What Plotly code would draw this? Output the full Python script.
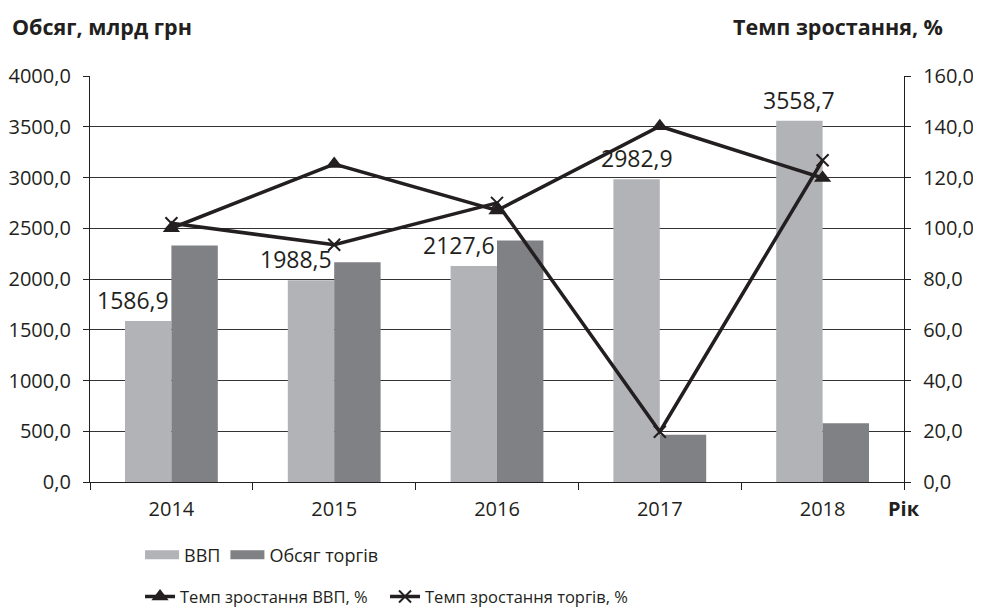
import plotly.graph_objects as go

years = ["2014", "2015", "2016", "2017", "2018"]
gdp = [1586.9, 1988.5, 2127.6, 2982.9, 3558.7]
trade = [2330, 2165, 2380, 465, 580]
gdp_growth = [100.0, 125.3, 107.0, 140.2, 119.8]
trade_growth = [102.0, 93.5, 110.0, 19.8, 126.8]

FONT = "Open Sans"
TXT = "#231f20"
LIGHT = "#b2b3b7"
DARK = "#808185"
BARGAP = 0.43

fig = go.Figure()
fig.add_trace(go.Bar(x=years, y=gdp, name="ВВП", marker=dict(color=LIGHT, line=dict(width=0)),
                     showlegend=False, legendgroup="g"))
fig.add_trace(go.Bar(x=years, y=trade, name="Обсяг торгів", marker=dict(color=DARK, line=dict(width=0)),
                     showlegend=False, legendgroup="t"))
# legend entries for bars (wide patches)
fig.add_trace(go.Scatter(x=[None], y=[None], mode="lines", name="ВВП",
                         line=dict(color=LIGHT, width=9), legendgroup="g", legend="legend"))
fig.add_trace(go.Scatter(x=[None], y=[None], mode="lines", name="Обсяг торгів",
                         line=dict(color=DARK, width=9), legendgroup="t", legend="legend"))

fig.add_trace(go.Scatter(x=years, y=gdp_growth, yaxis="y2", mode="lines+markers",
                         name="Темп зростання ВВП, %", legend="legend2",
                         line=dict(color=TXT, width=3.5),
                         marker=dict(symbol="triangle-up", size=15, color=TXT)))
fig.add_trace(go.Scatter(x=years, y=trade_growth, yaxis="y2", mode="lines+markers",
                         name="Темп зростання торгів, %", legend="legend2",
                         line=dict(color=TXT, width=3.5),
                         marker=dict(symbol="x-thin", size=12, color=TXT, line=dict(color=TXT, width=2))))

# GDP value labels, anchored to the data (category index, value), drawn above all traces.
# Where the neighbouring trade bar is taller, the label sits left of it; else centred on the GDP bar.
half_bar = (1 - BARGAP) / 4
annotations = []
for i, (v, t) in enumerate(zip(gdp, trade)):
    left_of_trade = t > v
    annotations.append(dict(
        x=i if left_of_trade else i - half_bar, y=v, xref="x", yref="y",
        text=f"{v:.1f}".replace(".", ","),
        xanchor="right" if left_of_trade else "center", yanchor="bottom", yshift=3,
        showarrow=False, font=dict(family=FONT, size=23, color=TXT)))
annotations += [
    dict(text="<b>Обсяг, млрд грн</b>", xref="paper", yref="paper", x=-0.098, y=1.121,
         xanchor="left", yanchor="middle", showarrow=False,
         font=dict(family=FONT, size=21.5, color=TXT)),
    dict(text="<b>Темп зростання, %</b>", xref="paper", yref="paper", x=1.050, y=1.121,
         xanchor="right", yanchor="middle", showarrow=False,
         font=dict(family=FONT, size=21.5, color=TXT)),
    dict(text="<b>Рік</b>", xref="paper", yref="paper", x=1.0, y=-0.0665,
         xanchor="center", yanchor="middle", showarrow=False,
         font=dict(family=FONT, size=20, color=TXT)),
]

# page has an 8px body margin, so the figure is drawn at (8, 8)
W, H = 973, 607
fig.update_layout(
    width=W, height=H,
    margin=dict(l=82, r=77, t=68, b=133, autoexpand=False),
    paper_bgcolor="white", plot_bgcolor="white",
    separators=", ",
    font=dict(family=FONT, size=20, color=TXT),
    barmode="group", bargap=BARGAP, bargroupgap=0,
    xaxis=dict(type="category", categoryorder="array", categoryarray=years,
               range=[-0.5, len(years) - 0.5], autorange=False,
               showline=True, linecolor=TXT, linewidth=1.3, automargin=False,
               ticks="outside", tickson="boundaries", ticklen=7, tickcolor=TXT, tickwidth=1.3,
               ticklabelstandoff=9, showgrid=False, tickangle=0,
               tickfont=dict(family=FONT, size=20, color=TXT)),
    yaxis=dict(range=[0, 4000], dtick=500, tickformat=".1f", automargin=False,
               showline=True, linecolor=TXT, linewidth=1.3,
               ticks="outside", ticklen=6, tickcolor=TXT, tickwidth=1.3,
               showgrid=True, gridcolor="#333333", gridwidth=1.2,
               zeroline=False, ticklabelstandoff=8,
               tickfont=dict(family=FONT, size=20, color=TXT)),
    yaxis2=dict(range=[0, 160], dtick=20, tickformat=".1f", overlaying="y", side="right",
                showline=True, linecolor=TXT, linewidth=1.3, automargin=False,
                ticks="outside", ticklen=6, tickcolor=TXT, tickwidth=1.3,
                showgrid=False, zeroline=False, ticklabelstandoff=8,
                tickfont=dict(family=FONT, size=20, color=TXT)),
    legend=dict(orientation="h", xref="container", yref="container",
                x=0.1357, xanchor="left", y=0.0988, yanchor="middle",
                font=dict(family=FONT, size=18, color=TXT), bgcolor="rgba(0,0,0,0)",
                itemwidth=34),
    legend2=dict(orientation="h", xref="container", yref="container",
                 x=0.1357, xanchor="left", y=0.030, yanchor="middle",
                 font=dict(family=FONT, size=16.5, color=TXT), bgcolor="rgba(0,0,0,0)",
                 itemwidth=30, entrywidth=200),
    annotations=annotations,
)

fig.write_html("out.html")
